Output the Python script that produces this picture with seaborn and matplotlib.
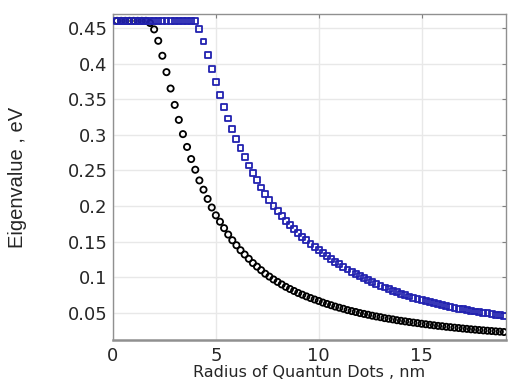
"""
Eigenvalue vs. quantum dot radius, two states (circles / squares).
"""
import matplotlib
matplotlib.use("Agg")
import matplotlib.pyplot as plt
import seaborn as sns
import pandas as pd

# Radius of the quantum dots, nm
radius = [0.2, 0.4, 0.6, 0.8, 1.0, 1.2, 1.4, 1.6, 1.8, 2.0,
          2.2, 2.4, 2.6, 2.8, 3.0, 3.2, 3.4, 3.6, 3.8, 4.0,
          4.2, 4.4, 4.6, 4.8, 5.0, 5.2, 5.4, 5.6, 5.8, 6.0,
          6.2, 6.4, 6.6, 6.8, 7.0, 7.2, 7.4, 7.6, 7.8, 8.0,
          8.2, 8.4, 8.6, 8.8, 9.0, 9.2, 9.4, 9.6, 9.8, 10.0,
          10.2, 10.4, 10.6, 10.8, 11.0, 11.2, 11.4, 11.6, 11.8, 12.0,
          12.2, 12.4, 12.6, 12.8, 13.0, 13.2, 13.4, 13.6, 13.8, 14.0,
          14.2, 14.4, 14.6, 14.8, 15.0, 15.2, 15.4, 15.6, 15.8, 16.0,
          16.2, 16.4, 16.6, 16.8, 17.0, 17.2, 17.4, 17.6, 17.8, 18.0,
          18.2, 18.4, 18.6, 18.8, 19.0]

# black circles
eig_circles = [0.46, 0.46, 0.46, 0.46, 0.46, 0.46, 0.46, 0.46, 0.457, 0.448,
               0.432, 0.411, 0.388, 0.365, 0.342, 0.321, 0.301, 0.283, 0.266, 0.251,
               0.236, 0.223, 0.210, 0.198, 0.187, 0.178, 0.169, 0.160, 0.152, 0.145,
               0.138, 0.132, 0.126, 0.120, 0.115, 0.110, 0.105, 0.101, 0.097, 0.0935,
               0.090, 0.0866, 0.0836, 0.0808, 0.078, 0.0756, 0.0732, 0.0709, 0.0688, 0.0668,
               0.0645, 0.0626, 0.0608, 0.0589, 0.0573, 0.0558, 0.0540, 0.0526, 0.0513, 0.0498,
               0.0486, 0.0474, 0.0461, 0.0450, 0.0440, 0.0427, 0.0418, 0.0409, 0.0398, 0.0389,
               0.0381, 0.0372, 0.0364, 0.0357, 0.0348, 0.0341, 0.0333, 0.0326, 0.0318, 0.0313,
               0.0305, 0.0300, 0.0293, 0.0288, 0.0281, 0.0276, 0.0270, 0.0265, 0.0260, 0.0255,
               0.0250, 0.0246, 0.0241, 0.0237, 0.0232]

# blue squares
eig_squares = [0.46, 0.46, 0.46, 0.46, 0.46, 0.46, 0.46, 0.46, 0.46, 0.46,
               0.46, 0.46, 0.46, 0.46, 0.46, 0.46, 0.46, 0.46, 0.46, 0.46,
               0.448, 0.431, 0.412, 0.393, 0.374, 0.356, 0.339, 0.323, 0.308, 0.294,
               0.281, 0.269, 0.257, 0.246, 0.236, 0.226, 0.217, 0.208, 0.200, 0.193,
               0.1861, 0.1795, 0.1733, 0.1676, 0.1622, 0.1570, 0.1519, 0.1469, 0.1424, 0.1379,
               0.1335, 0.1294, 0.1255, 0.1217, 0.1181, 0.1145, 0.1109, 0.1078, 0.1046, 0.1015,
               0.0986, 0.0957, 0.0932, 0.0906, 0.0881, 0.0857, 0.0834, 0.0812, 0.0790, 0.0769,
               0.0749, 0.0730, 0.0712, 0.0695, 0.0678, 0.0663, 0.0649, 0.0635, 0.0621, 0.0608,
               0.0596, 0.0584, 0.0572, 0.0561, 0.0551, 0.0540, 0.0530, 0.0520, 0.0511, 0.0502,
               0.0493, 0.0484, 0.0475, 0.0467, 0.0459]

x_ticks = [0, 5, 10, 15]
y_ticks = [0.05, 0.1, 0.15, 0.2, 0.25, 0.3, 0.35, 0.4, 0.45]
y_tick_labels = ['0.05', '0.1', '0.15', '0.2', '0.25', '0.3', '0.35', '0.4', '0.45']

df = pd.DataFrame({'radius': radius, 'circles': eig_circles, 'squares': eig_squares})

sns.set_style("white")
plt.rcParams['font.family'] = ['DejaVu Sans']

fig = plt.figure(figsize=(5.08, 3.83), dpi=100)
ax = fig.add_axes([0.2224, 0.1123, 0.7736, 0.8511])

sns.scatterplot(data=df, x='radius', y='circles', marker='o', s=20,
                facecolor='none', edgecolor='black', linewidth=1.3, ax=ax, zorder=3)
sns.scatterplot(data=df, x='radius', y='squares', marker='s', s=18,
                facecolor='none', edgecolor='#2222b0', linewidth=1.3, ax=ax, zorder=4)

ax.set_xlim(0, 19.1)
ax.set_ylim(0.012, 0.4696)
ax.set_xticks(x_ticks)
ax.set_yticks(y_ticks)
ax.set_yticklabels(y_tick_labels)
ax.tick_params(axis='both', labelsize=13, direction='in', length=3, width=0.8,
               color='#808080', top=True, right=True)
ax.tick_params(axis='x', pad=5)
ax.tick_params(axis='y', pad=4)
ax.grid(True, color='#e8e8e8', linewidth=1.0, zorder=0)
ax.set_axisbelow(True)
for side, sp in ax.spines.items():
    sp.set_color('#909090')
    sp.set_linewidth(1.0)
ax.spines['bottom'].set_linewidth(1.8)

ax.set_xlabel('Radius of Quantun Dots , nm', fontsize=11.5, labelpad=0)
ax.set_ylabel('Eigenvalue , eV', fontsize=14.5, family='Liberation Sans')
ax.yaxis.set_label_coords(-0.219, 0.5)

plt.savefig('out.png', dpi=100)
plt.close()
